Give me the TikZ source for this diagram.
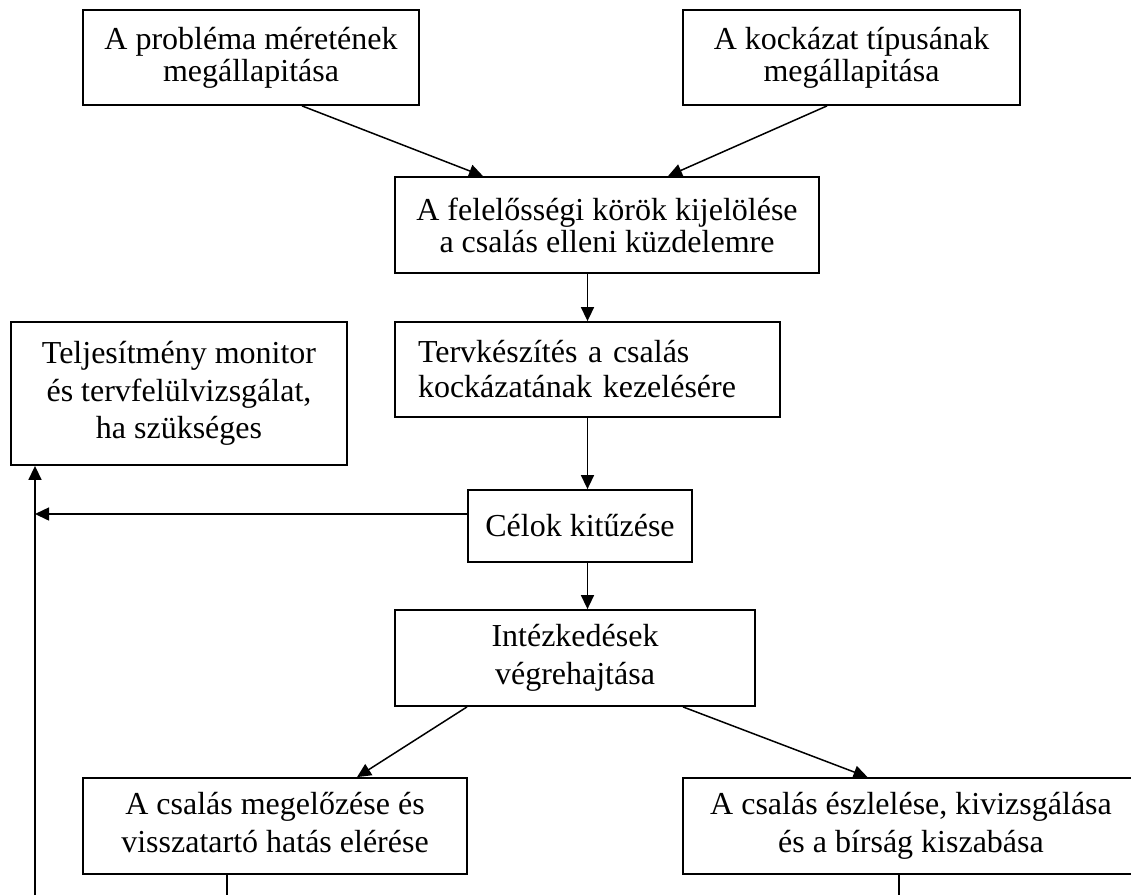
\documentclass[tikz,border=0pt]{standalone}
\usepackage{fontspec}
\setmainfont{Liberation Serif}
\usetikzlibrary{arrows.meta}
\begin{document}
\begin{tikzpicture}[x=1pt,y=-1pt,
  box/.style={draw, line width=1.8pt, inner sep=0pt, align=center, minimum height=95pt},
  tight/.style={font=\fontsize{32}{32}\selectfont},
  mid/.style={font=\fontsize{32}{35}\selectfont},
  loose/.style={font=\fontsize{32}{37.5}\selectfont},
  conn/.style={line width=1.5pt},
  arr/.style={conn, -{Triangle[length=14pt,width=13pt]}}]
\useasboundingbox (0,0) rectangle (1131,895);

% boxes
\node[box,tight,minimum width=336pt] (prob) at (251,57.5) {A probléma méretének\\megállapitása};
\node[box,tight,minimum width=337pt] (kock) at (851.5,57.5) {A kockázat típusának\\megállapitása};
\node[box,tight,minimum width=424pt,minimum height=96pt] (felel) at (607,225) {A felelősségi körök kijelölése\\a csalás elleni küzdelemre};
\node[box,mid,align=left,text width=339pt,inner xsep=23pt] (terv) at (587.5,369.5) {Tervkészítés a csalás\\kockázatának kezelésére};
\node[box,loose,minimum width=336pt,minimum height=143pt] (telj) at (179,393.5) {Teljesítmény monitor\\és tervfelülvizsgálat,\\ha szükséges};
\node[box,tight,minimum width=224pt,minimum height=72pt] (celok) at (580,526) {Célok kitűzése};
\node[box,loose,minimum width=360pt,minimum height=96pt] (intez) at (575,658) {Intézkedések\\végrehajtása};
\node[box,loose,minimum width=384pt,minimum height=96pt] (megel) at (275,826) {A csalás megelőzése és\\visszatartó hatás elérése\vphantom{g}};
\node[box,loose,minimum width=456pt,minimum height=96pt] (eszl) at (911,826) {\vphantom{ő}A csalás észlelése, kivizsgálása\\és a bírság kiszabása};

% free ends at the lower edge
\coordinate (fb) at (35,895);
\coordinate (fbjoin) at (35,514);
\coordinate (megelout) at (227,895);
\coordinate (eszlout) at (899,895);

% connectors
\draw[arr] ([xshift=51pt]prob.south) -- ([xshift=-124pt]felel.north);
\draw[arr] ([xshift=-24.5pt]kock.south) -- ([xshift=61pt]felel.north);
\draw[arr] (felel.south -| terv.north) -- (terv.north);
\draw[arr] (terv.south) -- (terv.south |- celok.north);
\draw[arr] (terv.south |- celok.south) -- (terv.south |- intez.north);
\draw[arr] ([xshift=-108pt]intez.south) -- ([xshift=82pt]megel.north);
\draw[arr] ([xshift=108pt]intez.south) -- ([xshift=-43.5pt]eszl.north);
\draw[arr] ([yshift=12pt]celok.west) -- (fbjoin);
\draw[arr] (fb) -- (fb |- telj.south);
\draw[conn] (megelout |- megel.south) -- (megelout);
\draw[conn] (eszlout |- eszl.south) -- (eszlout);
\end{tikzpicture}
\end{document}
